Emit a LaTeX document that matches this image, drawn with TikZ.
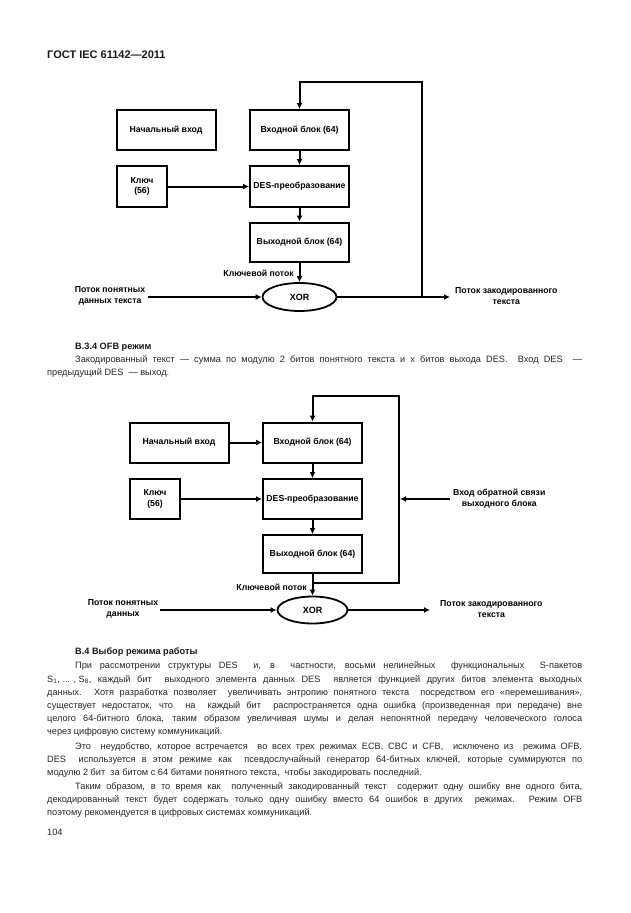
\documentclass[tikz,border=0pt]{standalone}
\usepackage{fontspec}
\setmainfont{Liberation Sans}
\usetikzlibrary{arrows.meta,shapes.geometric}
\begin{document}
\begin{tikzpicture}[x=1pt,y=-1pt,
  blk/.style={draw,line width=2pt,minimum width=99pt,minimum height=40pt,inner sep=0pt,font=\fontsize{8.7}{10.5}\selectfont\bfseries,align=center},
  xorn/.style={draw,ellipse,line width=1.8pt,minimum width=74pt,minimum height=28pt,inner sep=0pt,font=\fontsize{9}{10}\selectfont\bfseries},
  conn/.style={line width=2pt,-{Latex[length=6pt,width=6pt]}},
  lbl/.style={font=\fontsize{8.7}{11}\selectfont\bfseries,align=center,inner sep=0pt},
  body/.style={font=\fontsize{9.2}{13}\selectfont,anchor=base west,inner sep=0pt,text=black!85},
  head/.style={font=\fontsize{9.2}{13}\selectfont\bfseries,anchor=base west,inner sep=0pt,text=black!90},
]
\useasboundingbox (0,0) rectangle (630,913);
\fill[white] (0,0) rectangle (630,913);

\node[head,font=\fontsize{11}{13}\selectfont\bfseries] (hdr) at (47,58) {ГОСТ IEC 61142—2011};

% ---------- Diagram 1 ----------
\node[blk] (nv1) at (166,130) {Начальный вход};
\node[blk] (in1) at (299.5,130) {Входной блок (64)};
\node[blk,minimum width=50pt,minimum height=41pt] (key1) at (142,186.5) {Ключ\\(56)};
\node[blk,minimum height=41pt] (des1) at (299.5,186.5) {DES-преобразование};
\node[blk,minimum height=39pt] (out1) at (299.5,242) {Выходной блок (64)};
\node[xorn] (xor1) at (299.5,297) {XOR};
\draw[conn] (in1) -- (des1);
\draw[conn] (des1) -- (out1);
\draw[conn] (out1) -- (xor1);
\draw[conn] (key1) -- (des1);
\node[lbl,anchor=east] (kp1) at (294,273) {Ключевой поток};
\node[lbl] (pt1) at (110,296) {Поток понятных\\данных текста};
\coordinate (pt1e) at (148,297);
\draw[conn] (pt1e) -- (xor1.west);
\coordinate (end1) at (450,297);
\coordinate (fb1) at (422,297);
\coordinate (top1) at (422,82);
\draw[conn] (xor1.east) -- (end1);
\draw[conn] (fb1) -- (top1) -| (in1.north);
\node[lbl,anchor=west] (ct1) at (455,296) {Поток закодированного\\текста};

% ---------- Text ----------
\node[head] (s34) at (75,349) {В.3.4 OFB режим};
\node[body] (t1) at (75,362) {\makebox[507pt][s]{Закодированный текст — сумма по модулю 2 битов понятного текста и x битов выхода DES.\ \ Вход DES\ \ —}};
\node[body] (t2) at (47,375) {предыдущий DES\ \ — выход.};

% ---------- Diagram 2 ----------
\node[blk] (nv2) at (179,442.5) {Начальный вход};
\node[blk] (in2) at (312.5,442.5) {Входной блок (64)};
\node[blk,minimum width=50pt] (key2) at (155,499) {Ключ\\(56)};
\node[blk] (des2) at (312.5,499) {DES-преобразование};
\node[blk,minimum height=38pt] (out2) at (312.5,554) {Выходной блок (64)};
\node[xorn,minimum width=70pt,minimum height=27pt] (xor2) at (312.5,610) {XOR};
\draw[conn] (nv2) -- (in2);
\draw[conn] (in2) -- (des2);
\draw[conn] (des2) -- (out2);
\draw[conn] (key2) -- (des2);
\draw[conn] (out2) -- (xor2);
\coordinate (j2) at (312.5,583);
\coordinate (r2) at (399,583);
\coordinate (top2) at (399,396);
\draw[conn] (j2) -- (r2) -- (top2) -| (in2.north);
\coordinate (fbs) at (450,499);
\coordinate (fbe) at (400,499);
\draw[conn] (fbs) -- (fbe);
\node[lbl,anchor=west] (fbl) at (453,499) {Вход обратной связи\\выходного блока};
\node[lbl,anchor=east] (kp2) at (307,587) {Ключевой поток};
\node[lbl] (pt2) at (123,609) {Поток понятных\\данных};
\coordinate (pt2e) at (160,610);
\draw[conn] (pt2e) -- (xor2.west);
\coordinate (end2) at (430,610);
\draw[conn] (xor2.east) -- (end2);
\node[lbl,anchor=west] (ct2) at (440,609) {Поток закодированного\\текста};

% ---------- Text B.4 ----------
\node[head] (s4) at (75,654) {В.4 Выбор режима работы};
\node[body] (b1) at (75,668) {\makebox[507pt][s]{При рассмотрении структуры DES\ \ и, в\ \ частности, восьми нелинейных\ \ функциональных\ \ S-пакетов}};
\node[body] (b2) at (47,682) {\makebox[535pt][s]{\hbox{S\textsubscript{1}, ... , S\textsubscript{8},} каждый бит\ \ выходного элемента данных DES\ \ является функцией других битов элемента выходных}};
\node[body] (b3) at (47,695) {\makebox[535pt][s]{данных. Хотя разработка позволяет\ \ увеличивать энтропию понятного текста\ \ посредством его «перемешивания»,}};
\node[body] (b4) at (47,708) {\makebox[535pt][s]{существует недостаток, что\ \ на\ \ каждый бит\ \ распространяется одна ошибка (произведенная при передаче) вне}};
\node[body] (b5) at (47,721) {\makebox[535pt][s]{целого 64-битного блока, таким образом увеличивая шумы и делая непонятной передачу человеческого голоса}};
\node[body] (b6) at (47,734) {через цифровую систему коммуникаций.};
\node[body] (c1) at (75,749) {\makebox[507pt][s]{Это\ \ неудобство, которое встречается\ \ во всех трех режимах ECB, CBC и CFB,\ \ исключено из\ \ режима OFB.}};
\node[body] (c2) at (47,762) {\makebox[535pt][s]{DES\ \ используется в этом режиме как\ \ псевдослучайный генератор 64-битных ключей, которые суммируются по}};
\node[body] (c3) at (47,775) {модулю 2 бит\ \ за битом с 64 битами понятного текста,\ \ чтобы закодировать последний.};
\node[body] (d1) at (75,789) {\makebox[507pt][s]{Таким образом, в то время как\ \ полученный закодированный текст\ \ содержит одну ошибку вне одного бита,}};
\node[body] (d2) at (47,802) {\makebox[535pt][s]{декодированный текст будет содержать только одну ошибку вместо 64 ошибок в других\ \ режимах. Режим OFB}};
\node[body] (d3) at (47,815) {поэтому рекомендуется в цифровых системах коммуникаций.};
\node[body] (pg) at (47,835) {104};
\end{tikzpicture}
\end{document}
